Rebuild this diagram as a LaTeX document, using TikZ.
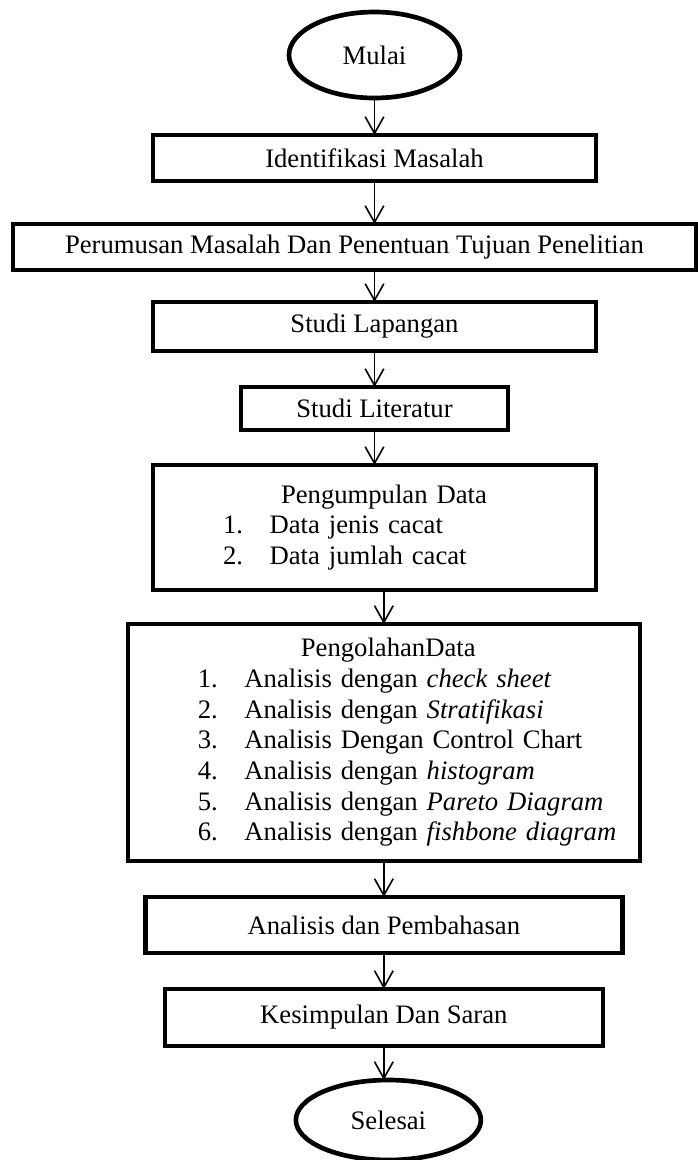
\documentclass[tikz,border=0pt]{standalone}
\usepackage{fontspec}
\setmainfont{Liberation Serif}
\usetikzlibrary{positioning, shapes.geometric, arrows.meta}

\newcommand{\listnum}[1]{\hspace*{52.5pt}\makebox[35pt][l]{#1}}

\begin{document}
\begin{tikzpicture}[
    x=0.75pt, y=-0.75pt,
    font=\fontsize{20}{23}\selectfont,
    terminal/.style={ellipse, draw=black, line width=3.5pt, outer sep=0pt, inner sep=0pt},
    process/.style={rectangle, draw=black, line width=3.5pt, outer sep=0pt, inner sep=0pt, align=center},
    listbox/.style={process, align=left},
    arrow/.style={draw=black, line width=1.2pt, -{Straight Barb[length=12.5pt, width=14pt]}}
]

\useasboundingbox (0,0) rectangle (698,1160);

% Start
\node[terminal, minimum width=128.25pt, minimum height=64.5pt] (mulai) at (374.5,55) {Mulai};

% Process steps
\node[process, minimum width=332.25pt, minimum height=34.5pt, below=27.75pt of mulai] (identifikasi) {Identifikasi Masalah};

\node[process, minimum width=512.25pt, minimum height=34.5pt, below=32.25pt of identifikasi, xshift=-15pt] (perumusan) {Perumusan Masalah Dan Penentuan Tujuan Penelitian};

\node[process, minimum width=332.25pt, minimum height=36.75pt, below=24pt of perumusan, xshift=15pt] (lapangan) {Studi Lapangan};

\node[process, minimum width=200.25pt, minimum height=32.25pt, below=27pt of lapangan] (literatur) {Studi Literatur};

% Data collection
\node[listbox, text width=332.25pt, minimum height=93.75pt, below=26.25pt of literatur] (pengumpulan) {
    \hspace*{96pt}Pengumpulan Data\\
    \listnum{1.}Data jenis cacat\\
    \listnum{2.}Data jumlah cacat
};

% Data processing
\node[listbox, text width=384pt, minimum height=177.75pt, below=25.5pt of pengumpulan, xshift=7pt] (pengolahan) {
    \hspace*{129.75pt}PengolahanData\\
    \listnum{1.}Analisis dengan \textit{check sheet}\\
    \listnum{2.}Analisis dengan \textit{Stratifikasi}\\
    \listnum{3.}Analisis Dengan Control Chart\\
    \listnum{4.}Analisis dengan \textit{histogram}\\
    \listnum{5.}Analisis dengan \textit{Pareto Diagram}\\
    \listnum{6.}Analisis dengan \textit{fishbone diagram}
};

\node[process, minimum width=357.75pt, minimum height=42pt, below=27pt of pengolahan] (analisis) {Analisis dan Pembahasan};

\node[process, minimum width=328.5pt, minimum height=42.75pt, below=27pt of analisis] (kesimpulan) {Kesimpulan Dan Saran};

% End
\node[terminal, minimum width=138.75pt, minimum height=60pt, below=25.5pt of kesimpulan, xshift=3.4pt] (selesai) {Selesai};

% Connections
\draw[arrow] (mulai.south) -- (identifikasi.north);
\draw[arrow] (identifikasi.south) -- (identifikasi.south |- perumusan.north);
\draw[arrow] (lapangan.north |- perumusan.south) -- (lapangan.north);
\draw[arrow] (lapangan.south) -- (literatur.north);
\draw[arrow] (literatur.south) -- (pengumpulan.north);
\draw[arrow] (pengolahan.north |- pengumpulan.south) -- (pengolahan.north);
\draw[arrow] (pengolahan.south) -- (analisis.north);
\draw[arrow] (analisis.south) -- (kesimpulan.north);
\draw[arrow] (kesimpulan.south) -- (kesimpulan.south |- selesai.north);

\end{tikzpicture}
\end{document}
